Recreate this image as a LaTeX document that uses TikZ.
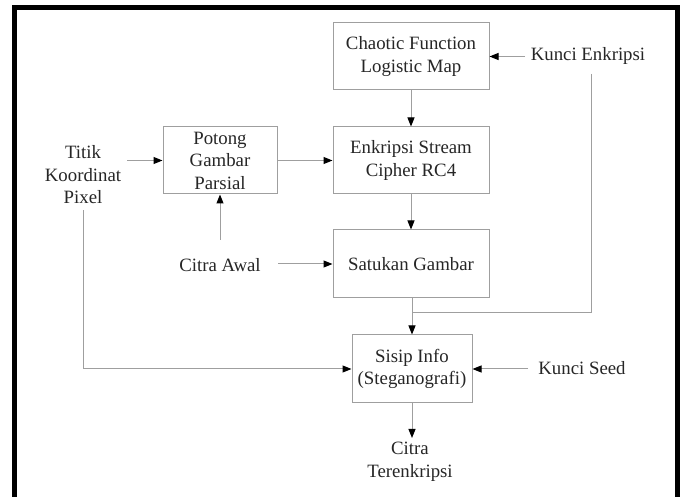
\documentclass[tikz,border=0pt]{standalone}
\usepackage{fontspec}
\setmainfont{Liberation Serif}
\usetikzlibrary{arrows.meta}
\begin{document}
\begin{tikzpicture}[x=1pt,y=-1pt,
  font=\fontsize{18.8}{22.5}\selectfont,
  procbox/.style={draw=gray!75,line width=1pt,align=center,inner sep=0pt,text=black!85},
  label/.style={align=center,inner sep=6pt,text=black!85},
  conn/.style={draw=gray!75,line width=1pt,-{Triangle[length=9pt,width=7pt,color=black]}},
  plain/.style={draw=gray!75,line width=1pt}]
\useasboundingbox (0,0) rectangle (681,497);
\fill[white] (0,0) rectangle (681,497);
% frame
\draw[line width=5pt,miter limit=10] (14.5,520) -- (14.5,7.5) -- (677.5,7.5) -- (677.5,520);
% boxes
\node[procbox,minimum width=156pt,minimum height=67pt] (chaos) at (411,56.5) {Chaotic Function\\Logistic Map};
\node[procbox,minimum width=156pt,minimum height=67pt] (rc4) at (411,160.5) {Enkripsi Stream\\Cipher RC4};
\node[procbox,minimum width=156pt,minimum height=68pt] (satu) at (411,264) {Satukan Gambar};
\node[procbox,minimum width=114pt,minimum height=67pt] (potong) at (220,160.5) {Potong\\Gambar\\Parsial};
\node[procbox,minimum width=120pt,minimum height=68pt] (sisip) at (412,369) {Sisip Info\\(Steganografi)};
% labels
\node[label] (titik) at (83,175) {Titik\\Koordinat\\Pixel};
\node[label] (awal) at (220,265) {Citra Awal};
\node[label] (kenk) at (588,56) {Kunci Enkripsi};
\node[label] (kseed) at (582,368) {Kunci Seed};
\node[label] (hasil) at (410,462) {Citra\\Terenkripsi};
% coordinates
\coordinate (awalup) at (220,240);
\coordinate (awalrt) at (278,264);
\coordinate (kenkdn) at (591,74);
\coordinate (kenkbend) at (591,313);
\coordinate (sisiptop) at (412,313);
\coordinate (kenkl) at (525,56.5);
\coordinate (kseedl) at (528,369);
\coordinate (hasiltop) at (412,438);
% connectors
\draw[conn] (titik.east |- potong.west) -- (potong.west);
\draw[conn] (potong.east) -- (rc4.west |- potong.east);
\draw[conn] (awalup) -- (potong.south);
\draw[conn] (awalrt) -- (satu.west |- awalrt);
\draw[conn] (kenkl) -- (chaos.east);
\draw[conn] (chaos.south) -- (rc4.north);
\draw[conn] (rc4.south) -- (satu.north);
\draw[conn] (satu.south -| sisip.north) -- (sisip.north);
\draw[plain] (kenkdn) -- (kenkbend) -- (sisiptop);
\draw[conn] (titik.south) |- (sisip.west);
\draw[conn] (kseedl) -- (sisip.east);
\draw[conn] (sisip.south) -- (hasiltop);
\end{tikzpicture}
\end{document}
